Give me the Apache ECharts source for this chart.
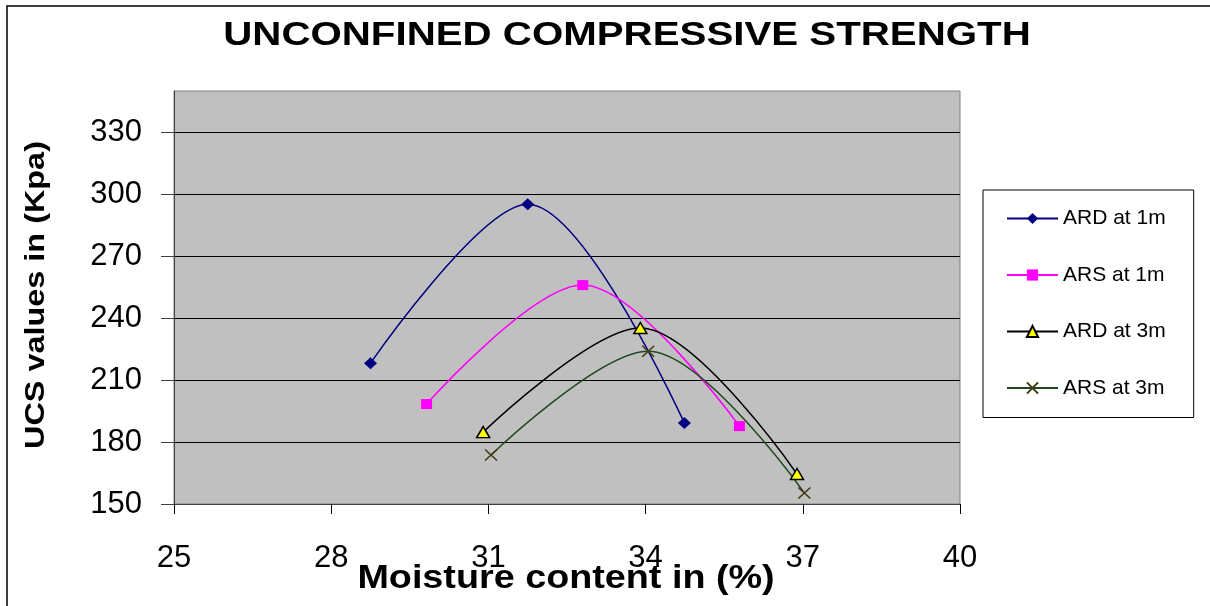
<!DOCTYPE html>
<html>
<head>
<meta charset="utf-8">
<script src="https://cdn.jsdelivr.net/npm/echarts@6/dist/echarts.min.js"></script>
<style>
html,body{margin:0;padding:0;background:#fff;}
#c{width:1210px;height:606px;}
</style>
</head>
<body>
<div id="c"></div>
<script>
const titleText = 'UNCONFINED COMPRESSIVE STRENGTH';
const xAxisTitle = 'Moisture content in (%)';
const yAxisTitle = 'UCS values in (Kpa)';
const seriesNames = ['ARD at 1m', 'ARS at 1m', 'ARD at 3m', 'ARS at 3m'];
const xTicks = [25, 28, 31, 34, 37, 40];
const yTicks = [150, 180, 210, 240, 270, 300, 330];
const ard1m = [[28.75, 218.2], [31.75, 295.2], [34.74, 189.2]];
const ars1m = [[29.82, 198.4], [32.80, 256.0], [35.79, 187.7]];
const ard3m = [[30.90, 184.8], [33.90, 235.2], [36.89, 164.5]];
const ars3m = [[31.05, 173.7], [34.05, 224.0], [37.03, 155.3]];

const chart = echarts.init(document.getElementById('c'), null, {renderer: 'canvas'});
const FONT = '"Liberation Sans", Arial, sans-serif';
const crossPath = 'path://M0,0L10,10M10,0L0,10';

const option = {
  animation: false,
  backgroundColor: '#ffffff',
  grid: {
    left: 174, right: 250, top: 91, bottom: 102,
    show: true, backgroundColor: '#c0c0c0', borderColor: '#808080', borderWidth: 1
  },
  graphic: [
    {type: 'rect', shape: {x: 7, y: 6, width: 1400, height: 800}, style: {fill: 'none', stroke: '#000', lineWidth: 1.5}, silent: true, z: -1},
    {type: 'text', x: 627, y: 36, scaleX: 1.22, style: {text: titleText, x: 0, y: 0, textAlign: 'center', textVerticalAlign: 'middle', font: 'bold 33px ' + FONT, fill: '#000'}},
    {type: 'text', x: 566, y: 579, scaleX: 1.11, style: {text: xAxisTitle, x: 0, y: 0, textAlign: 'center', textVerticalAlign: 'middle', font: 'bold 34px ' + FONT, fill: '#000'}},
    {type: 'text', x: 37, y: 295, rotation: Math.PI / 2, scaleX: 1.2, style: {text: yAxisTitle, x: 0, y: 0, textAlign: 'center', textVerticalAlign: 'middle', font: 'bold 27px ' + FONT, fill: '#000'}}
  ],
  legend: {
    orient: 'vertical',
    left: 983, top: 190,
    data: seriesNames,
    backgroundColor: '#ffffff',
    borderColor: '#000',
    borderWidth: 1,
    padding: [18, 28, 19, 23],
    itemWidth: 51,
    itemHeight: 14,
    itemGap: 35.5,
    textStyle: {fontFamily: FONT, fontSize: 21, color: '#000', lineHeight: 20}
  },
  xAxis: {
    type: 'value', min: 25, max: 40, interval: 3,
    axisLine: {show: true, onZero: false, lineStyle: {color: '#404040', width: 1}},
    axisTick: {show: true, length: 10, inside: false, lineStyle: {color: '#000'}},
    axisLabel: {fontFamily: FONT, fontSize: 31, color: '#000', margin: 39, customValues: xTicks},
    splitLine: {show: false}
  },
  yAxis: {
    type: 'value', min: 150, max: 350, interval: 30,
    axisLine: {show: true, onZero: false, lineStyle: {color: '#404040', width: 1}},
    axisTick: {show: true, length: 13, inside: false, lineStyle: {color: '#404040'}, customValues: yTicks},
    axisLabel: {fontFamily: FONT, fontSize: 31, color: '#000', margin: 32, customValues: yTicks},
    splitLine: {show: true, lineStyle: {color: '#000', width: 1}}
  },
  series: [
    {
      name: seriesNames[0], type: 'line', data: ard1m, smooth: 0.33,
      symbol: 'diamond', symbolSize: [13, 12],
      lineStyle: {color: '#000080', width: 1.5},
      itemStyle: {color: '#000080', borderColor: '#000080', borderWidth: 0}
    },
    {
      name: seriesNames[1], type: 'line', data: ars1m, smooth: 0.33,
      symbol: 'rect', symbolSize: [11, 10],
      lineStyle: {color: '#ff00ff', width: 1.5},
      itemStyle: {color: '#ff00ff', borderWidth: 0}
    },
    {
      name: seriesNames[2], type: 'line', data: ard3m, smooth: 0.33,
      symbol: 'triangle', symbolSize: [13, 11],
      lineStyle: {color: '#000000', width: 1.5},
      itemStyle: {color: '#ffff00', borderColor: '#000000', borderWidth: 1.5}
    },
    {
      name: seriesNames[3], type: 'line', data: ars3m, smooth: 0.33,
      symbol: crossPath, symbolSize: [12, 11],
      lineStyle: {color: '#1f4a1f', width: 1.5},
      itemStyle: {color: 'transparent', borderColor: '#403a14', borderWidth: 1.5}
    }
  ]
};
chart.setOption(option);
</script>
</body>
</html>
